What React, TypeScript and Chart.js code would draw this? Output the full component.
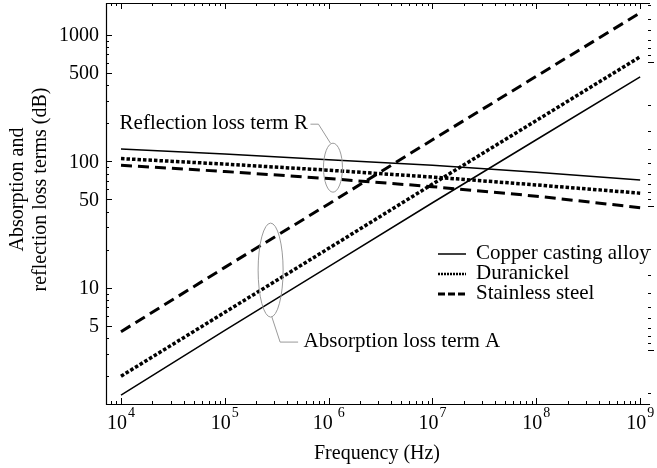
import React, { useEffect, useRef } from "react";
import { Chart, registerables } from "chart.js";

Chart.register(...registerables);

// ---- data ----
const frequencies = [1e4, 1e5, 1e6, 1e7, 1e8, 1e9];

// Absorption loss term A (dB)
const copperAbsorption = [1.42, 4.6, 14.7, 47, 148, 464];
const duranickelAbsorption = [2.0, 6.4, 20.5, 66, 210, 670];
const stainlessAbsorption = [4.5, 14.5, 46, 148, 470, 1490];

// Reflection loss term R (dB)
const copperReflection = [125, 114, 103, 93, 82, 71];
const duranickelReflection = [105, 95, 85, 75, 65, 56];
const stainlessReflection = [93, 83, 73, 63, 53, 43];

const seriesNames = ["Copper casting alloy", "Duranickel", "Stainless steel"];
const yTickLabels = [5, 10, 50, 100, 500, 1000];
const xTickExponents = [4, 5, 6, 7, 8, 9];

const xTitle = "Frequency (Hz)";
const yTitleLines = ["Absorption and", "reflection loss terms (dB)"];
const reflectionNote = "Reflection loss term R";
const absorptionNote = "Absorption loss term A";

// ---- style ----
const FONT = '"Liberation Serif", "Times New Roman", Times, serif';
const lineStyles = [
  { borderWidth: 1.5, borderDash: [] as number[] },
  { borderWidth: 3.5, borderDash: [3.5, 2] },
  { borderWidth: 3, borderDash: [11, 6] },
];
const legendStyles = [
  { w: 1.5, dash: [] as number[] },
  { w: 2.5, dash: [2, 1] },
  { w: 3, dash: [7, 3] },
];

const overlayPlugin = {
  id: "overlay",
  afterDraw(chart: any) {
    const ctx: CanvasRenderingContext2D = chart.ctx;
    const { left, right, top, bottom } = chart.chartArea;
    const xs = chart.scales.x;
    const ys = chart.scales.y;
    const y2 = chart.scales.y2;
    ctx.save();

    // frame (left, top, bottom)
    ctx.strokeStyle = "#000";
    ctx.lineWidth = 1.2;
    ctx.setLineDash([]);
    ctx.beginPath();
    ctx.moveTo(left + 0.5, top);
    ctx.lineTo(left + 0.5, bottom + 0.5);
    ctx.lineTo(right + 2, bottom + 0.5);
    ctx.moveTo(left, top + 0.5);
    ctx.lineTo(right + 2, top + 0.5);
    ctx.stroke();

    // x ticks (inside, bottom and top)
    ctx.lineWidth = 1;
    ctx.beginPath();
    for (let k = 3; k <= 9; k++) {
      for (let m = 1; m <= 9; m++) {
        const v = m * Math.pow(10, k);
        if (v < xs.min || v > xs.max) continue;
        const px = Math.round(xs.getPixelForValue(v)) + 0.5;
        const len = m === 1 ? 6 : 3;
        ctx.moveTo(px, bottom);
        ctx.lineTo(px, bottom - len);
        ctx.moveTo(px, top);
        ctx.lineTo(px, top + len);
      }
    }
    // left y ticks (inside)
    for (let k = 0; k <= 3; k++) {
      for (let m = 1; m <= 9; m++) {
        const v = m * Math.pow(10, k);
        if (v < ys.min || v > ys.max) continue;
        const py = Math.round(ys.getPixelForValue(v)) + 0.5;
        const len = m === 1 || m === 5 ? 6 : 3;
        ctx.moveTo(left, py);
        ctx.lineTo(left + len, py);
      }
    }
    // right y ticks (secondary scale)
    for (let k = -1; k <= 2; k++) {
      for (let m = 1; m <= 9; m++) {
        const v = m * Math.pow(10, k);
        if (v < y2.min || v > y2.max) continue;
        const py = Math.round(y2.getPixelForValue(v)) + 0.5;
        const len = m === 1 ? 6 : 3;
        ctx.moveTo(right, py);
        ctx.lineTo(right + len, py);
      }
    }
    ctx.stroke();

    // y tick labels
    ctx.fillStyle = "#000";
    ctx.font = `20px ${FONT}`;
    ctx.textAlign = "right";
    ctx.textBaseline = "middle";
    for (const v of yTickLabels) {
      ctx.fillText(String(v), left - 7, ys.getPixelForValue(v) + 1);
    }

    // x tick labels 10^n
    for (const e of xTickExponents) {
      const px = xs.getPixelForValue(Math.pow(10, e));
      ctx.font = `20px ${FONT}`;
      const base = "10";
      const bw = ctx.measureText(base).width;
      ctx.font = `14px ${FONT}`;
      const ex = String(e);
      const ew = ctx.measureText(ex).width;
      const gap = e === 6 ? 5 : 1;
      const total = bw + gap + ew;
      const x0 = px - total / 2;
      ctx.textAlign = "left";
      ctx.font = `20px ${FONT}`;
      ctx.fillText(base, x0, bottom + 20);
      ctx.font = `14px ${FONT}`;
      ctx.fillText(ex, x0 + bw + gap, bottom + 9);
    }

    // axis titles
    ctx.font = `20px ${FONT}`;
    ctx.textAlign = "center";
    ctx.fillText(xTitle, (left + right) / 2, bottom + 50);
    const cy = (top + bottom) / 2 - 14;
    ctx.save();
    ctx.translate(18, cy);
    ctx.rotate(-Math.PI / 2);
    ctx.fillText(yTitleLines[0], 0, 0);
    ctx.restore();
    ctx.save();
    ctx.translate(41, cy);
    ctx.rotate(-Math.PI / 2);
    ctx.fillText(yTitleLines[1], 0, 0);
    ctx.restore();

    // annotations: reflection ellipse
    ctx.strokeStyle = "#9a9a9a";
    ctx.lineWidth = 1;
    ctx.setLineDash([]);
    const rx = xs.getPixelForValue(1.1e6);
    const ry = ys.getPixelForValue(89);
    ctx.beginPath();
    ctx.ellipse(rx, ry, 9.5, 24.5, 0, 0, Math.PI * 2);
    ctx.moveTo(rx - 2.5, ry - 24.5);
    ctx.lineTo(rx - 14.5, ry - 43.5);
    ctx.lineTo(rx - 22.5, ry - 43.5);
    ctx.stroke();
    ctx.textAlign = "right";
    ctx.font = `21px ${FONT}`;
    ctx.fillText(reflectionNote, rx - 25, ry - 44.5);

    // absorption ellipse
    const ax = xs.getPixelForValue(2.76e5);
    const ay = ys.getPixelForValue(13.8);
    ctx.beginPath();
    ctx.ellipse(ax, ay, 12.5, 47, 0, 0, Math.PI * 2);
    ctx.moveTo(ax + 1.2, ay + 46.7);
    ctx.lineTo(ax + 9.5, ay + 72);
    ctx.lineTo(ax + 27.5, ay + 72);
    ctx.stroke();
    ctx.textAlign = "left";
    ctx.fillText(absorptionNote, ax + 33, ay + 71);

    // legend
    const lx0 = left + 332;
    const lx1 = left + 360;
    const tx = left + 370;
    const rowY = [top + 250, top + 270, top + 290];
    ctx.strokeStyle = "#000";
    ctx.font = `21px ${FONT}`;
    seriesNames.forEach((name, i) => {
      const st = legendStyles[i];
      ctx.lineWidth = st.w;
      ctx.setLineDash(st.dash);
      ctx.beginPath();
      ctx.moveTo(lx0, rowY[i] + 1);
      ctx.lineTo(lx1, rowY[i] + 1);
      ctx.stroke();
      ctx.setLineDash([]);
      ctx.fillStyle = "#000";
      ctx.textAlign = "left";
      ctx.fillText(name, tx, rowY[i]);
    });

    ctx.restore();
  },
};

export default function App() {
  const ref = useRef<HTMLCanvasElement>(null);
  useEffect(() => {
    document.body.style.margin = "0";
    const canvas = ref.current;
    if (!canvas) return;
    const pts = (ys: number[]) => frequencies.map((f, i) => ({ x: f, y: ys[i] }));
    const series = [
      [copperAbsorption, 0],
      [duranickelAbsorption, 1],
      [stainlessAbsorption, 2],
      [copperReflection, 0],
      [duranickelReflection, 1],
      [stainlessReflection, 2],
    ] as [number[], number][];
    const datasets = series.map(([vals, s], i) => ({
      label: seriesNames[s] + (i < 3 ? " A" : " R"),
      data: pts(vals),
      borderColor: "#000",
      backgroundColor: "#000",
      borderWidth: lineStyles[s].borderWidth,
      borderDash: lineStyles[s].borderDash,
      pointRadius: 0,
      tension: 0,
      fill: false,
      xAxisID: "x",
      yAxisID: "y",
    }));
    const chart = new Chart(canvas, {
      type: "line",
      data: { datasets },
      options: {
        responsive: false,
        animation: false,
        devicePixelRatio: 1,
        layout: { padding: { top: 3, left: 0, right: 0, bottom: 0 } },
        plugins: { legend: { display: false }, tooltip: { enabled: false } },
        scales: {
          x: {
            type: "logarithmic",
            min: 7170,
            max: 1.19e9,
            ticks: { display: false },
            grid: { display: false },
            border: { display: false },
            afterFit: (s: any) => {
              s.height = 64;
            },
          },
          y: {
            type: "logarithmic",
            position: "left",
            min: 1.206,
            max: 1783,
            ticks: { display: false },
            grid: { display: false },
            border: { display: false },
            afterFit: (s: any) => {
              s.width = 106;
            },
          },
          y2: {
            type: "logarithmic",
            position: "right",
            reverse: true,
            min: 0.389,
            max: 237,
            ticks: { display: false },
            grid: { display: false },
            border: { display: false },
            afterFit: (s: any) => {
              s.width = 9;
            },
          },
        },
      } as any,
      plugins: [overlayPlugin],
    });
    return () => chart.destroy();
  }, []);
  return (
    <canvas
      ref={ref}
      width={657}
      height={468}
      style={{ display: "block", width: 657, height: 468 }}
    />
  );
}
